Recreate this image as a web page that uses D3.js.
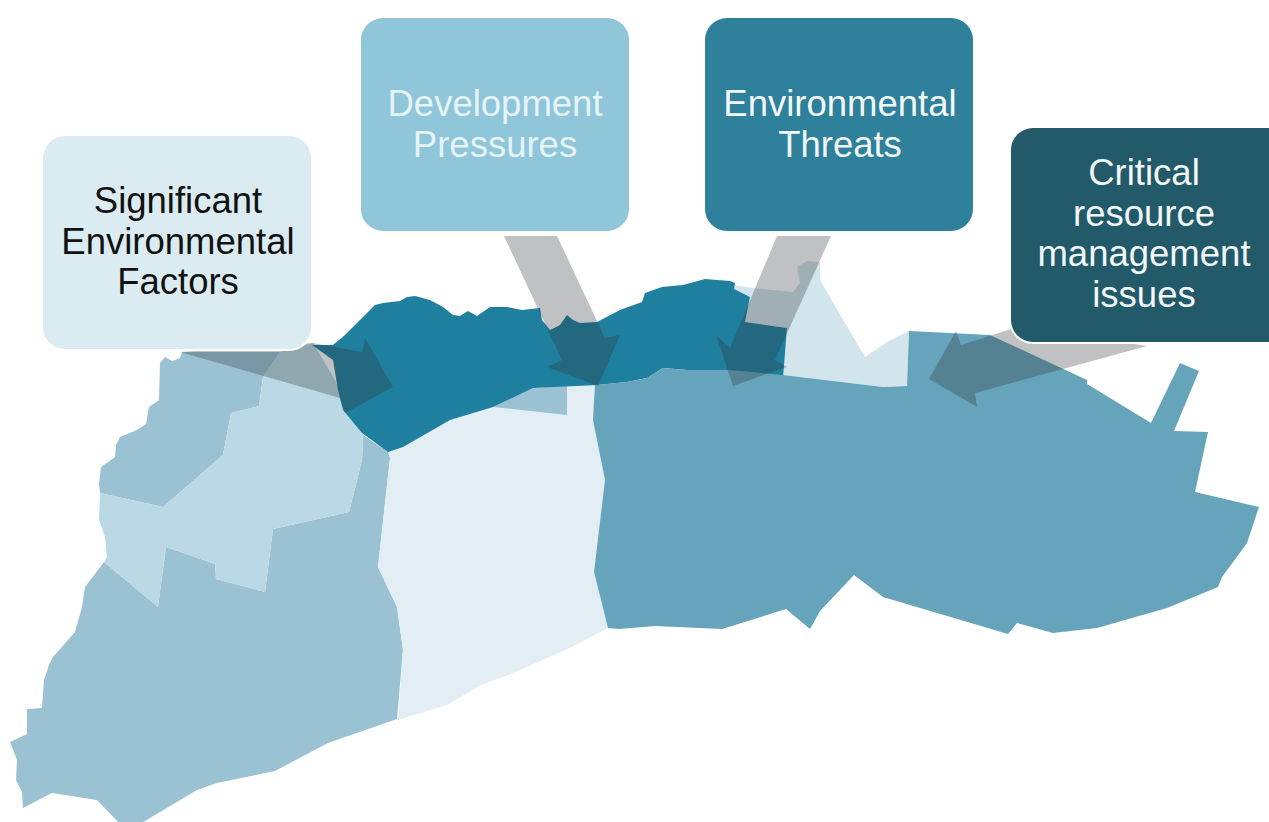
<!DOCTYPE html>
<html>
<head>
<meta charset="utf-8">
<title>Environmental factors map</title>
<script src="https://cdn.jsdelivr.net/npm/d3@7"></script>
<style>
  html, body { margin: 0; padding: 0; background: #fff; overflow: hidden; }
  svg { display: block; }
</style>
</head>
<body>
<div id="chart"></div>
<script>
// Map outlines in image pixels
const northWest = [[160,363],[165,357],[172,361],[180,358],[182,352],[280,352],[263,377],[259,406],[231,413],[223,455],[163,507],[100,493],[99,484],[101,467],[115,457],[116,445],[120,437],[137,430],[146,424],[149,407],[159,400]];
const centreWest = [[280,352],[313,343],[335,380],[343,400],[363,435],[362,460],[349,512],[273,529],[265,592],[216,579],[215,564],[166,547],[158,607],[104,562],[107,557],[105,537],[99,520],[100,493],[163,507],[223,455],[231,413],[259,406],[263,377]];
const southWest = [[104,562],[85,587],[82,607],[75,632],[53,657],[49,665],[44,680],[42,708],[27,709],[27,734],[10,742],[17,760],[16,780],[22,792],[23,808],[52,793],[97,800],[120,824],[140,824],[160,812],[197,790],[217,783],[275,771],[328,743],[397,719],[403,650],[397,607],[378,567],[390,458],[388,452],[363,435],[362,460],[349,512],[273,529],[265,592],[216,579],[215,564],[166,547],[158,607]];
const centre = [[388,452],[450,412],[533,384],[598,382],[601,460],[605,480],[594,572],[608,628],[570,648],[513,673],[481,685],[447,705],[398,720],[403,650],[397,607],[378,567],[390,458]];
const centreInlet = [[533,388],[567,386],[567,415],[493,407]];
const northEast = [[733,285],[733,291],[750,297],[745,322],[787,328],[783,375],[883,387],[907,386],[909,331],[887,342],[865,357],[820,280],[820,262],[807,261],[797,267],[800,283],[793,292],[753,288]];
const coastStrip = [[312,345],[333,345],[345,335],[362,318],[375,305],[383,303],[400,301],[407,297],[415,296],[430,300],[443,307],[453,315],[460,316],[468,311],[477,316],[490,307],[507,307],[522,310],[540,308],[542,320],[550,330],[560,325],[567,315],[573,320],[580,323],[597,322],[620,310],[642,302],[645,293],[662,287],[683,285],[705,279],[730,281],[735,283],[734,289],[750,297],[745,322],[787,328],[783,378],[663,368],[647,378],[627,382],[598,385],[533,388],[493,407],[450,420],[403,447],[388,452],[362,433],[343,410],[338,390],[333,360]];
const eastBlock = [[595,385],[627,382],[647,378],[663,368],[688,370],[730,370],[783,375],[883,387],[907,386],[909,331],[990,335],[1087,380],[1087,384],[1151,423],[1180,363],[1199,371],[1174,431],[1208,432],[1195,492],[1259,507],[1247,543],[1222,577],[1218,587],[1167,608],[1097,628],[1053,633],[1017,623],[1008,634],[883,597],[854,575],[820,611],[810,629],[786,609],[722,629],[655,626],[619,629],[608,628],[594,572],[605,480],[601,460],[593,420]];

// Callout arrows
const arrowFactors = [[180,352],[313,343],[362,352],[365,338],[393,387],[345,413],[340,398]];
const arrowPressures = [[504,236],[557,236],[605,338],[620,335],[598,386],[547,367],[562,360]];
const arrowThreats = [[777,236],[831,236],[775,360],[787,367],[733,386],[716,335],[730,348]];
const arrowIssues = [[929,379],[956,331],[961,345],[1020,326],[1147,346],[975,393],[977,407]];

// Callout labels
const boxLabels = [
  ["Significant", "Environmental", "Factors"],
  ["Development", "Pressures"],
  ["Environmental", "Threats"],
  ["Critical", "resource", "management", "issues"]
];

const width = 1269, height = 822;
const x = d3.scaleIdentity().domain([0, width]);
const y = d3.scaleIdentity().domain([0, height]);
const outline = d3.line().x(d => x(d[0])).y(d => y(d[1]));

const regions = [
  { pts: southWest, fill: "#9ac2d2" },
  { pts: northWest, fill: "#9ac2d2" },
  { pts: centreWest, fill: "#bbd9e4" },
  { pts: centre, fill: "#e2eef3" },
  { pts: centreInlet, fill: "#9ac2d2" },
  { pts: northEast, fill: "#d3e5ec" },
  { pts: coastStrip, fill: "#1f7f9f" },
  { pts: eastBlock, fill: "#65a4ba" }
];
const arrows = [arrowFactors, arrowPressures, arrowThreats, arrowIssues];

const boxes = [
  { x: 43, y: 136, w: 268, h: 213, fill: "#daebf2", text: "#111", cx: 178, base: 213 },
  { x: 361, y: 18, w: 268, h: 213, fill: "#8fc6da", text: "#e6f3f7", cx: 495, base: 116 },
  { x: 705, y: 18, w: 268, h: 213, fill: "#2f809b", text: "#f2f8fa", cx: 840, base: 116 },
  { x: 1011, y: 128, w: 280, h: 214, fill: "#225a6a", text: "#f2f8fa", cx: 1144, base: 185 }
];

const svg = d3.select("#chart").append("svg")
  .attr("width", width)
  .attr("height", height);

svg.append("g")
  .selectAll("path")
  .data(regions)
  .enter()
  .append("path")
  .attr("d", d => outline(d.pts) + "Z")
  .attr("fill", d => d.fill);

svg.append("g")
  .selectAll("path")
  .data(arrows)
  .enter()
  .append("path")
  .attr("d", d => outline(d) + "Z")
  .attr("fill", "rgb(50,55,60)")
  .attr("fill-opacity", 0.31);

const box = svg.append("g")
  .selectAll("g")
  .data(boxes)
  .enter()
  .append("g");

box.append("rect")
  .attr("x", d => d.x)
  .attr("y", d => d.y)
  .attr("width", d => d.w)
  .attr("height", d => d.h)
  .attr("rx", 22)
  .attr("fill", d => d.fill)
  .attr("stroke", "#fff")
  .attr("stroke-width", 4)
  .attr("paint-order", "stroke");

box.each(function (d, i) {
  d3.select(this).selectAll("text")
    .data(boxLabels[i])
    .enter()
    .append("text")
    .attr("x", d.cx)
    .attr("y", (t, j) => d.base + j * 40.5)
    .attr("text-anchor", "middle")
    .attr("font-family", "'Liberation Sans', Arial, sans-serif")
    .attr("font-size", "36.5px")
    .attr("fill", d.text)
    .text(t => t);
});
</script>
</body>
</html>
